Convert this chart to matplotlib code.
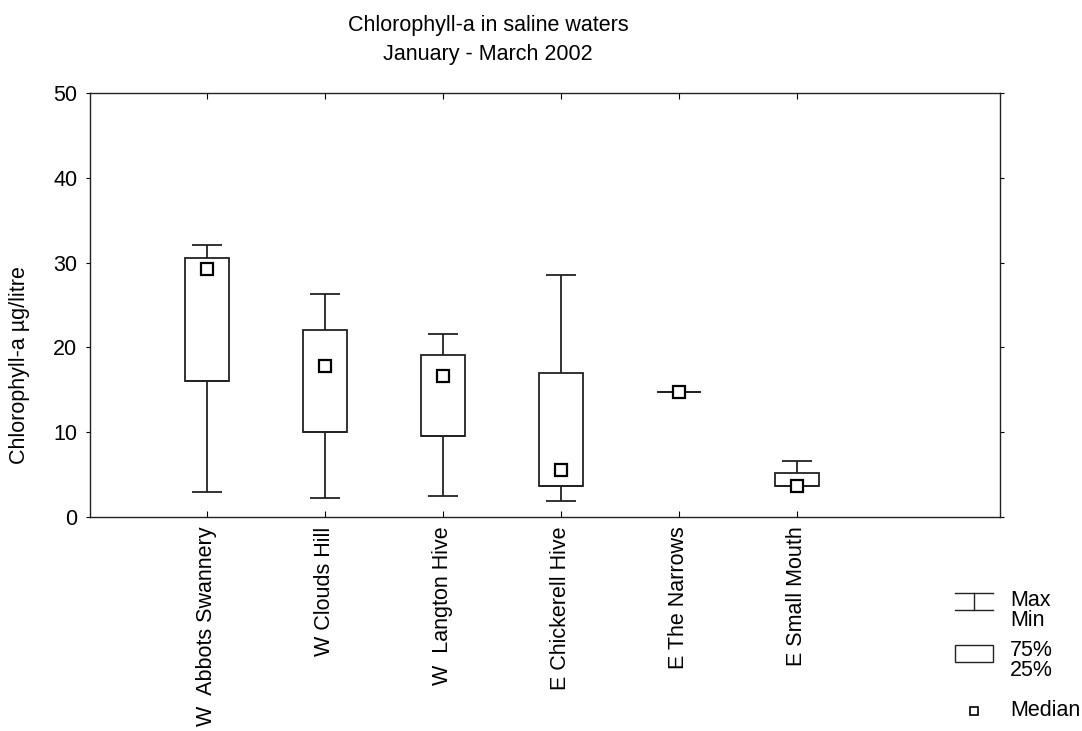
import matplotlib
matplotlib.use("Agg")
import matplotlib.pyplot as plt
import numpy as np

plt.rcParams["font.family"] = ["Liberation Sans", "DejaVu Sans"]

# Daten
sites = ["W  Abbots Swannery", "W Clouds Hill", "W  Langton Hive",
         "E Chickerell Hive", "E The Narrows", "E Small Mouth"]
v_min = [2.9, 2.2, 2.5, 1.9, 14.7, 3.6]
v_q25 = [16.0, 10.0, 9.55, 3.7, 14.7, 3.6]
v_med = [29.2, 17.8, 16.6, 5.5, 14.7, 3.65]
v_q75 = [30.6, 22.05, 19.1, 17.0, 14.7, 5.2]
v_max = [32.1, 26.3, 21.6, 28.5, 14.7, 6.65]

FS = 15.5
LW = 1.3
FARBE = "#222222"
BOX_W = 0.375
CAP_W = 0.25

fig = plt.figure(figsize=(10.82, 7.31), dpi=100)
ax = fig.add_axes([90 / 1082, 1 - 517 / 731, 910 / 1082, 424 / 731])

x = np.arange(len(sites))
lo = np.array(v_q25)
hi = np.array(v_q75)

# Whisker
ax.vlines(x, v_min, v_q25, color=FARBE, linewidth=LW, zorder=2)
ax.vlines(x, v_q75, v_max, color=FARBE, linewidth=LW, zorder=2)
ax.hlines(v_min, x - CAP_W / 2, x + CAP_W / 2, color=FARBE, linewidth=LW, zorder=2)
ax.hlines(v_max, x - CAP_W / 2, x + CAP_W / 2, color=FARBE, linewidth=LW, zorder=2)

# Boxen (25%-75%)
ax.bar(x, hi - lo, bottom=lo, width=BOX_W, color="white", edgecolor=FARBE,
       linewidth=LW, zorder=3)
ax.hlines(lo, x - BOX_W / 2, x + BOX_W / 2, color=FARBE, linewidth=LW, zorder=3)

# Median
ax.plot(x, v_med, linestyle="none", marker="s", markersize=8,
        markerfacecolor="white", markeredgecolor="black", markeredgewidth=1.6, zorder=4)

ax.set_xlim(-0.99, 6.72)
ax.set_ylim(0, 50)
ax.set_yticks([0, 10, 20, 30, 40, 50])
ax.set_xticks(x)
ax.set_xticklabels(sites, rotation=90, fontsize=FS)
ax.tick_params(axis="y", labelsize=FS, direction="out", length=3, pad=6, right=True)
ax.tick_params(axis="x", direction="in", length=4, top=True, pad=7)
for s in ax.spines.values():
    s.set_linewidth(1.0)
    s.set_color(FARBE)

# Titel und Achsenbeschriftung
fig.text(488 / 1082, 1 - 31 / 731, "Chlorophyll-a in saline waters",
         ha="center", va="baseline", fontsize=FS)
fig.text(488 / 1082, 1 - 60 / 731, "January - March 2002",
         ha="center", va="baseline", fontsize=FS)
fig.text(20 / 1082, 1 - 365 / 731, "Chlorophyll-a µg/litre", rotation=90,
         ha="center", va="center", fontsize=FS)

# Legende
lg = fig.add_axes([0, 0, 1, 1])
lg.set_xlim(0, 1082)
lg.set_ylim(731, 0)
lg.axis("off")
lg.plot([955, 993], [593, 593], color=FARBE, linewidth=1.0)
lg.plot([955, 993], [610, 610], color=FARBE, linewidth=1.0)
lg.plot([974, 974], [593, 610], color=FARBE, linewidth=1.0)
lg.add_patch(plt.Rectangle((955, 645), 38, 17, facecolor="white",
                           edgecolor=FARBE, linewidth=1.0))
lg.plot([974], [711], marker="s", markersize=6, markerfacecolor="white",
        markeredgecolor="black", markeredgewidth=1.2)
for yy, txt in [(600, "Max"), (620, "Min"), (651, "75%"), (671, "25%"), (711, "Median")]:
    lg.text(1010, yy, txt, ha="left", va="center", fontsize=FS)

fig.savefig("out.png", dpi=100)
